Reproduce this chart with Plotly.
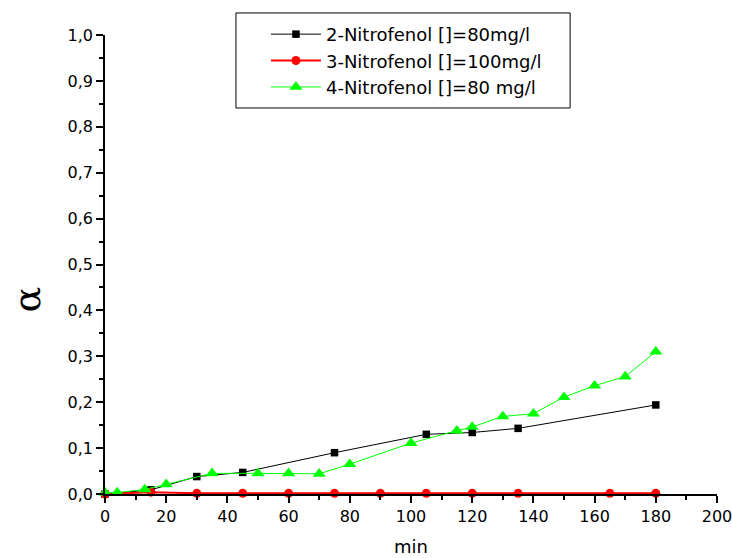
import plotly.graph_objects as go

# Time (min) and conversion alpha for each nitrophenol
t_2np = [0, 15, 30, 45, 75, 105, 120, 135, 180]
a_2np = [0.0, 0.009, 0.038, 0.047, 0.090, 0.130, 0.134, 0.143, 0.194]

t_3np = [0, 15, 30, 45, 60, 75, 90, 105, 120, 135, 165, 180]
a_3np = [0.0, 0.004, 0.0015, 0.0015, 0.0015, 0.0015, 0.0015, 0.0015, 0.0015, 0.0015, 0.0015, 0.0015]

t_4np = [0, 4, 13, 20, 35, 50, 60, 70, 80, 100, 115, 120, 130, 140, 150, 160, 170, 180]
a_4np = [0.003, 0.003, 0.010, 0.021, 0.045, 0.045, 0.045, 0.044, 0.065, 0.111,
         0.138, 0.146, 0.169, 0.175, 0.211, 0.236, 0.256, 0.310]

names = ["2-Nitrofenol []=80mg/l", "3-Nitrofenol []=100mg/l", "4-Nitrofenol []=80 mg/l"]

x_ticks = list(range(0, 201, 20))
y_ticks = [i / 10 for i in range(11)]

SANS = "DejaVu Sans, Liberation Sans, Arial, sans-serif"

fig = go.Figure()
fig.add_trace(go.Scatter(
    x=t_2np, y=a_2np, name=names[0], mode="lines+markers",
    line=dict(color="#000000", width=1),
    marker=dict(symbol="square", size=7.5, color="#000000"),
    cliponaxis=False,
))
fig.add_trace(go.Scatter(
    x=t_3np, y=a_3np, name=names[1], mode="lines+markers",
    line=dict(color="#FF0000", width=2),
    marker=dict(symbol="circle", size=9, color="#FF0000"),
    cliponaxis=False,
))
fig.add_trace(go.Scatter(
    x=t_4np, y=a_4np, name=names[2], mode="lines+markers",
    line=dict(color="#00FF00", width=1),
    marker=dict(symbol="triangle-up", size=11.5, color="#00FF00"),
    cliponaxis=False,
))

tick_font = dict(family=SANS, size=16, color="#000000")

fig.update_layout(
    width=732, height=558,
    margin=dict(l=105, r=15, t=35, b=64, autoexpand=False),
    paper_bgcolor="white", plot_bgcolor="white",
    separators=", ",
    font=tick_font,
    showlegend=True,
    legend=dict(
        x=0.263, y=1.0415, xanchor="left", yanchor="top",
        borderwidth=0, bgcolor="rgba(0,0,0,0)",
        font=dict(family=SANS, size=18, color="#000000"),
        itemwidth=50,
    ),
    xaxis=dict(
        range=[0, 200], tickvals=x_ticks, ticktext=[str(v) for v in x_ticks],
        showline=True, linecolor="#000000", linewidth=1.5,
        ticks="outside", ticklen=7, tickwidth=1.5, tickcolor="#000000",
        minor=dict(dtick=10, ticks="outside", ticklen=4, tickwidth=1.5, tickcolor="#000000"),
        showgrid=False, zeroline=False, mirror=False,
        tickfont=tick_font, ticklabeloverflow="allow",
        title=dict(text="min", font=dict(family=SANS, size=18), standoff=15),
    ),
    yaxis=dict(
        range=[0, 1.0], tickvals=y_ticks, tickformat=".1f",
        showline=True, linecolor="#000000", linewidth=1.5,
        ticks="outside", ticklen=7, tickwidth=1.5, tickcolor="#000000",
        minor=dict(dtick=0.05, ticks="outside", ticklen=4, tickwidth=1.5, tickcolor="#000000"),
        showgrid=False, zeroline=False, mirror=False,
        tickfont=tick_font, ticklabeloverflow="allow",
    ),
    shapes=[dict(
        type="rect", xref="paper", yref="paper",
        x0=0.214, x1=0.760, y0=0.841, y1=1.048,
        line=dict(color="#000000", width=1), fillcolor="rgba(0,0,0,0)", layer="above",
    )],
    annotations=[dict(
        text="α", textangle=-90, showarrow=False,
        xref="paper", yref="paper", x=-0.1275, y=0.4237,
        xanchor="center", yanchor="middle",
        font=dict(family="DejaVu Serif, serif", size=38, color="#000000"),
    )],
)

fig.write_html("out.html")
